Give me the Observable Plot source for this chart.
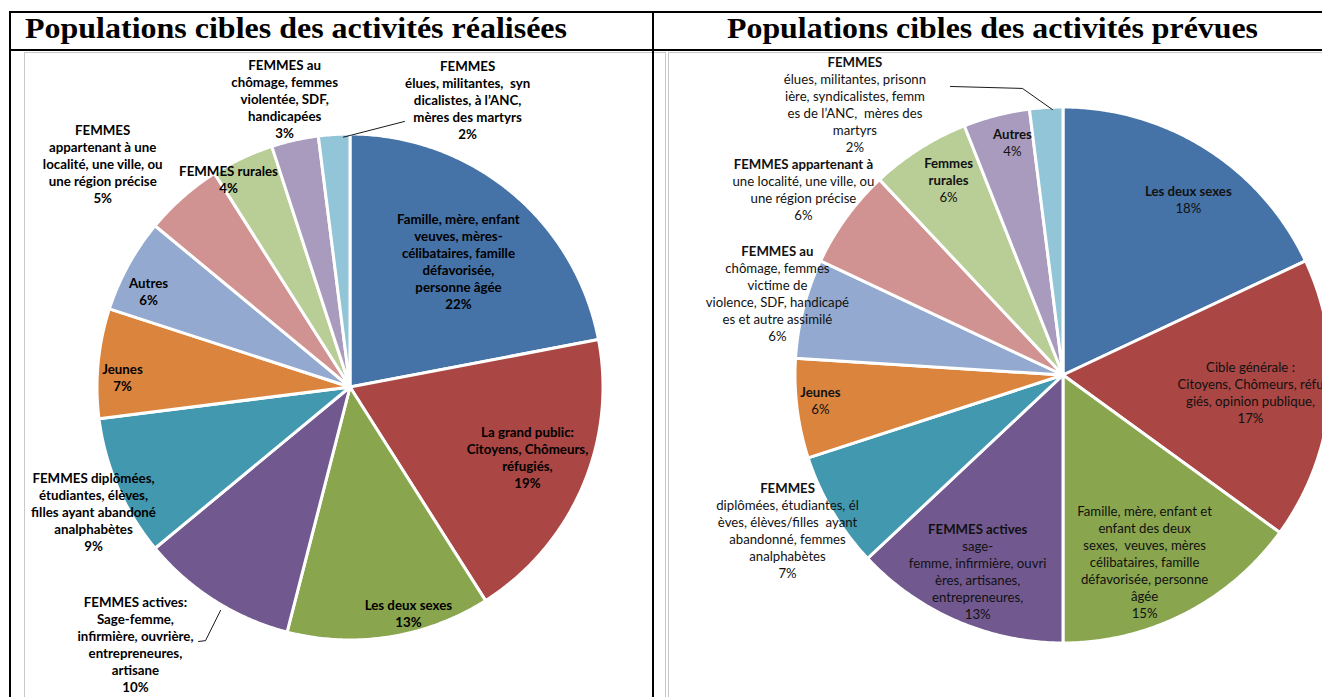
<!DOCTYPE html>
<html><head><meta charset="utf-8">
<script src="https://cdn.jsdelivr.net/npm/d3@7"></script>
<script src="https://cdn.jsdelivr.net/npm/@observablehq/plot@0.6"></script>
<style>
body{margin:0;width:1322px;height:697px;overflow:hidden;position:relative;background:#fff}
.hl{position:absolute;background:#000;z-index:5}
.title{position:absolute;font-family:"Liberation Serif","Times New Roman",serif;font-weight:bold;font-size:29px;line-height:1;white-space:nowrap;color:#000;z-index:4}
.box{position:absolute;border:1px solid #c8c8c8;z-index:1}
.chart{position:absolute;z-index:2}
</style></head><body>
<div class="box" style="left:24px;top:52px;width:640px;height:700px"></div>
<div class="box" style="left:668px;top:52px;width:700px;height:700px"></div>
<div class="chart" id="c1" style="left:25px;top:53px;width:627px;height:644px"></div>
<div class="chart" id="c2" style="left:669px;top:53px;width:653px;height:644px"></div>
<span class="title" id="t1" style="left:25px;top:14px">Populations cibles des activités réalisées</span>
<span class="title" id="t2" style="left:727px;top:14px">Populations cibles des activités prévues</span>
<div class="hl" style="left:9px;top:11px;width:1320px;height:2px"></div>
<div class="hl" style="left:9px;top:49px;width:1320px;height:2px"></div>
<div class="hl" style="left:9px;top:11px;width:2px;height:700px"></div>
<div class="hl" style="left:652px;top:11px;width:2px;height:700px"></div>
<script>
// ---------- DATA ----------
const leftCategories = [
  "Famille, mère, enfant\nveuves, mères-\ncélibataires, famille\ndéfavorisée,\npersonne âgée",
  "La grand public:\nCitoyens, Chômeurs,\nréfugiés,",
  "Les deux sexes",
  "FEMMES actives:\nSage-femme,\ninfirmière, ouvrière,\nentrepreneures,\nartisane",
  "FEMMES diplômées,\nétudiantes, élèves,\nfilles ayant abandoné\nanalphabètes",
  "Jeunes",
  "Autres",
  "FEMMES\nappartenant à une\nlocalité, une ville, ou\nune région précise",
  "FEMMES rurales",
  "FEMMES au\nchômage, femmes\nviolentée, SDF,\nhandicapées",
  "FEMMES\nélues, militantes,  syn\ndicalistes, à l’ANC,\nmères des martyrs"
];
const leftValues = [22, 19, 13, 10, 9, 7, 6, 5, 4, 3, 2];

const rightCategories = [
  "Les deux sexes",
  "Cible générale :\nCitoyens, Chômeurs, réfu\ngiés, opinion publique,",
  "Famille, mère, enfant et\nenfant des deux\nsexes,  veuves, mères\ncélibataires, famille\ndéfavorisée, personne\nâgée",
  "FEMMES actives\nsage-\nfemme, infirmière, ouvri\nères, artisanes,\nentrepreneures,",
  "FEMMES\ndiplômées, étudiantes, él\nèves, élèves/filles  ayant\nabandonné, femmes\nanalphabètes",
  "Jeunes",
  "FEMMES au\nchômage, femmes\nvictime de\nviolence, SDF, handicapé\nes et autre assimilé",
  "FEMMES appartenant à\nune localité, une ville, ou\nune région précise",
  "Femmes\nrurales",
  "Autres",
  "FEMMES\nélues, militantes, prisonn\nière, syndicalistes, femm\nes de l’ANC,  mères des\nmartyrs"
];
const rightValues = [18, 17, 15, 13, 7, 6, 6, 6, 6, 4, 2];

const sliceColors = ["#4572A7","#AA4643","#89A54E","#71588F","#4198AF","#DB843D","#93A9CF","#D19392","#B9CD96","#A99BBD","#92C5D8"];

// ---------- LAYOUT ----------
const leftLabelNudge  = [1.2, -1.5, -5.3, 7.4, -2.6, -3.1, -3.5, -6.6, -5.3, -0.3, 25.8];
const leftLabelRadius = [0.653, 0.754, 0.926, 1.328, 1.130, 0.902, 0.883, 1.318, 0.950, 1.166, 1.225];
const rightLabelNudge  = [3.1, 0.1, 3.6, 0.2, 1.2, 1.1, 1.5, -0.5, 1.9, 2.0, -34.05];
const rightLabelRadius = [0.802, 0.701, 0.762, 0.800, 1.182, 0.912, 1.110, 1.192, 0.845, 0.888, 1.274];
const leftBoldLines  = [99, 99, 99, 99, 99, 99, 99, 99, 99, 99, 99];
const rightBoldLines = [1, 0, 0, 1, 1, 1, 1, 1, 2, 1, 1];
const leftLeaders = [
  {slice: 10, pts: [[2.0, 0.99], [15.07, 1.073]]},
  {slice: 3, pts: [[-2.16, 1.02], [-2.6, 1.153], [-1.5, 1.170]]}
];
const rightLeaders = [
  {slice: 10, pts: [[1.23, 0.993], [-4.53, 1.082], [-17.76, 1.158]]}
];

function pie(cfg) {
  const {categories, values, cx, cy, R, width, height, nudge, radius, boldLines, leaders, textFill, fontSize} = cfg;
  const total = d3.sum(values);
  const rad = d => d * Math.PI / 180;
  const starts = [];
  let acc = 0;
  values.forEach(v => { starts.push(acc); acc += v; });
  const mids = values.map((v, i) => (starts[i] + v / 2) / total * 360);

  const slices = [];
  values.forEach((v, i) => {
    const a0 = starts[i] / total * 2 * Math.PI, a1 = (starts[i] + v) / total * 2 * Math.PI;
    const n = Math.max(2, Math.ceil((a1 - a0) / rad(0.5)));
    for (let k = 0; k <= n; k++) {
      const t = a0 + (a1 - a0) * k / n;
      slices.push({cat: categories[i], x1: Math.sin(t), y1: Math.cos(t), x2: 0, y2: 0});
    }
  });

  const LH = 17;
  const textRows = [];
  values.forEach((v, i) => {
    const a = rad(mids[i] + nudge[i]);
    const r = radius[i];
    const lines = (categories[i] + "\n" + v + "%").split("\n");
    const n = lines.length;
    lines.forEach((line, j) => {
      textRows.push({
        x: r * Math.sin(a),
        y: r * Math.cos(a) + ((n - 1) / 2 - j) * LH / R,
        text: line,
        bold: j < boldLines[i]
      });
    });
  });

  const leaderRows = [];
  leaders.forEach((L, li) => {
    L.pts.forEach(([dA, r]) => {
      const a = rad(mids[L.slice] + dA);
      leaderRows.push({id: li, x: r * Math.sin(a), y: r * Math.cos(a)});
    });
  });

  const textOpts = {x: "x", y: "y", text: "text", fontFamily: "Lato, 'Open Sans', sans-serif", fontSize, fill: textFill, textAnchor: "middle"};

  return Plot.plot({
    width, height,
    margin: 0,
    style: {background: "transparent", overflow: "visible"},
    x: {domain: [-cx / R, (width - cx) / R], axis: null},
    y: {domain: [-(height - cy) / R, cy / R], axis: null},
    color: {domain: categories, range: sliceColors},
    marks: [
      Plot.area(slices, {x1: "x1", y1: "y1", x2: "x2", y2: "y2", z: "cat", fill: "cat", stroke: "white", strokeWidth: 3, strokeLinejoin: "round"}),
      Plot.line(leaderRows, {x: "x", y: "y", z: "id", stroke: "#000", strokeWidth: 0.9}),
      Plot.text(textRows.filter(d => d.bold), {...textOpts, fontWeight: "bold"}),
      Plot.text(textRows.filter(d => !d.bold), {...textOpts, fontWeight: "normal"})
    ]
  });
}

document.getElementById("c1").appendChild(pie({
  categories: leftCategories, values: leftValues,
  cx: 325, cy: 334, R: 253, width: 627, height: 644,
  nudge: leftLabelNudge, radius: leftLabelRadius, boldLines: leftBoldLines,
  leaders: leftLeaders, textFill: "#000", fontSize: 13.3
}));
document.getElementById("c2").appendChild(pie({
  categories: rightCategories, values: rightValues,
  cx: 394, cy: 322, R: 268, width: 653, height: 644,
  nudge: rightLabelNudge, radius: rightLabelRadius, boldLines: rightBoldLines,
  leaders: rightLeaders, textFill: "#111", fontSize: 13.2
}));

// stretch titles to the reference widths
function fit(id, target) {
  const el = document.getElementById(id);
  const w = el.getBoundingClientRect().width;
  el.style.transformOrigin = "left top";
  el.style.transform = `scaleX(${target / w})`;
}
fit("t1", 542);
fit("t2", 531);
</script>
</body></html>
